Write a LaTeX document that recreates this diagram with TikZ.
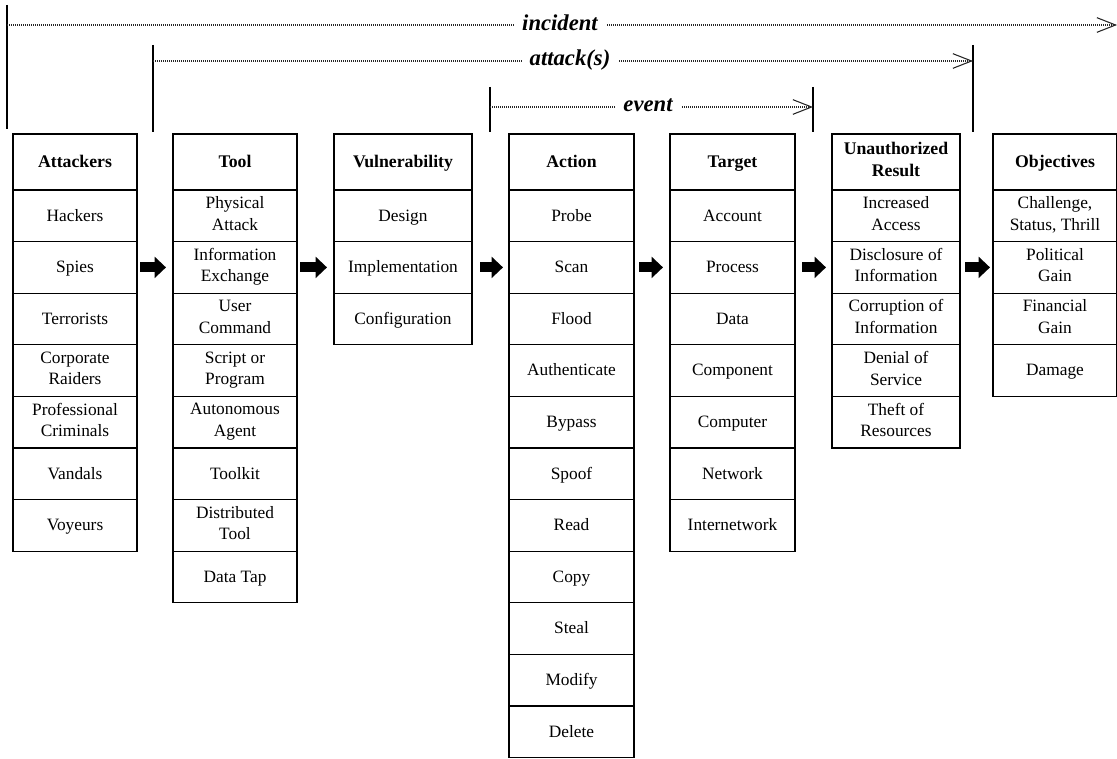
\documentclass[tikz,border=0pt]{standalone}
\usepackage{fontspec}
\setmainfont{Liberation Serif}
\usetikzlibrary{arrows.meta}
\def\pxu{0.75pt}
\newcommand\topstrut{\rule{0pt}{11.5pt}}
\newcommand\botstrut{\rule[-3.6pt]{0pt}{3.6pt}}
\tikzset{
  cell/.style={draw, line width=0.9pt, inner sep=0pt, outer sep=0pt, minimum height=38.7pt, align=center, font=\fontsize{13}{16.3}\selectfont, execute at begin node=\topstrut, execute at end node=\botstrut},
  head/.style={draw, line width=2.2pt, inner sep=0pt, outer sep=0pt, minimum height=42pt, align=center, font=\fontsize{13.3}{16.3}\selectfont\bfseries, execute at begin node=\topstrut, execute at end node=\botstrut},
  blockarr/.style={line width=7.5pt, -{Triangle[length=8.5pt,width=15.5pt]}},
  dotline/.style={line width=0.8pt, dash pattern=on 0.9pt off 0.6pt, black!85, -{Straight Barb[length=14pt,width=11pt,line width=0.8pt]}},
  bracket/.style={line width=0.9pt},
  spanlabel/.style={fill=white, inner xsep=6pt, inner ysep=1pt, font=\fontsize{17}{20}\selectfont\bfseries\itshape},
}
\newcommand\mycolumn[5]{%
  \foreach \txt [count=\i] in {#5} {\node[cell, minimum width=#3*\pxu] (#1-\i) at (#2,{190+(\i-0.5)*51.6}) {\txt};}
  \node[head, minimum width=#3*\pxu] (#1-h) at (#2,162) {#4};
}
\begin{document}
\begin{tikzpicture}[x=0.75pt,y=-0.75pt]
\useasboundingbox (0,0) rectangle (1117,759);
% columns
\mycolumn{att}{75}{124}{Attackers}{Hackers,Spies,Terrorists,{Corporate\\Raiders},{Professional\\Criminals},Vandals,Voyeurs}
\mycolumn{tool}{235}{124}{Tool}{{Physical\\Attack},{Information\\Exchange},{User\\Command},{Script or\\Program},{Autonomous\\Agent},Toolkit,{Distributed\\Tool},Data Tap}
\mycolumn{vul}{403}{138}{Vulnerability}{Design,Implementation,Configuration}
\mycolumn{act}{571.5}{125}{Action}{Probe,Scan,Flood,Authenticate,Bypass,Spoof,Read,Copy,Steal,Modify,Delete}
\mycolumn{tgt}{732.5}{125}{Target}{Account,Process,Data,Component,Computer,Network,Internetwork}
\mycolumn{res}{896}{128}{Unauthorized\\Result}{{Increased\\Access},{Disclosure of\\Information},{Corruption of\\Information},{Denial of\\Service},{Theft of\\Resources}}
\mycolumn{obj}{1055}{124}{Objectives}{{Challenge,\\Status, Thrill},{Political\\Gain},{Financial\\Gain},Damage}
% block arrows
\draw[blockarr] ([xshift=2.25pt]att-2.east) -- ([xshift=-5.25pt]tool-2.west);
\draw[blockarr] ([xshift=2.25pt]tool-2.east) -- ([xshift=-5.25pt]vul-2.west);
\draw[blockarr] ([xshift=6pt]vul-2.east) -- ([xshift=-4.5pt]act-2.west);
\draw[blockarr] ([xshift=3.75pt]act-2.east) -- ([xshift=-5.25pt]tgt-2.west);
\draw[blockarr] ([xshift=5.25pt]tgt-2.east) -- ([xshift=-4.5pt]res-2.west);
\draw[blockarr] ([xshift=3.75pt]res-2.east) -- ([xshift=-2.25pt]obj-2.west);
% incident
\coordinate (incT) at (7,5); \coordinate (incB) at (7,129);
\coordinate (incL) at (7,25); \coordinate (incR) at (1117,25);
\draw[bracket] (incT) -- (incB);
\draw[dotline] (incL) -- (incR);
\node[spanlabel] (inc) at (560,23) {incident};
% attack(s)
\coordinate (attLT) at (153,45); \coordinate (attLB) at (153,132);
\coordinate (attRT) at (973,45); \coordinate (attRB) at (973,132);
\coordinate (attL) at (153,61); \coordinate (attR) at (973,61);
\draw[bracket] (attLT) -- (attLB);
\draw[bracket] (attRT) -- (attRB);
\draw[dotline] (attL) -- (attR);
\node[spanlabel] (atk) at (570,60) {attack(s)};
% event
\coordinate (evLT) at (490,87); \coordinate (evLB) at (490,132);
\coordinate (evRT) at (813,87); \coordinate (evRB) at (813,132);
\coordinate (evL) at (490,107); \coordinate (evR) at (813,107);
\draw[bracket] (evLT) -- (evLB);
\draw[bracket] (evRT) -- (evRB);
\draw[dotline] (evL) -- (evR);
\node[spanlabel] (ev) at (648,105) {event};
\end{tikzpicture}
\end{document}
